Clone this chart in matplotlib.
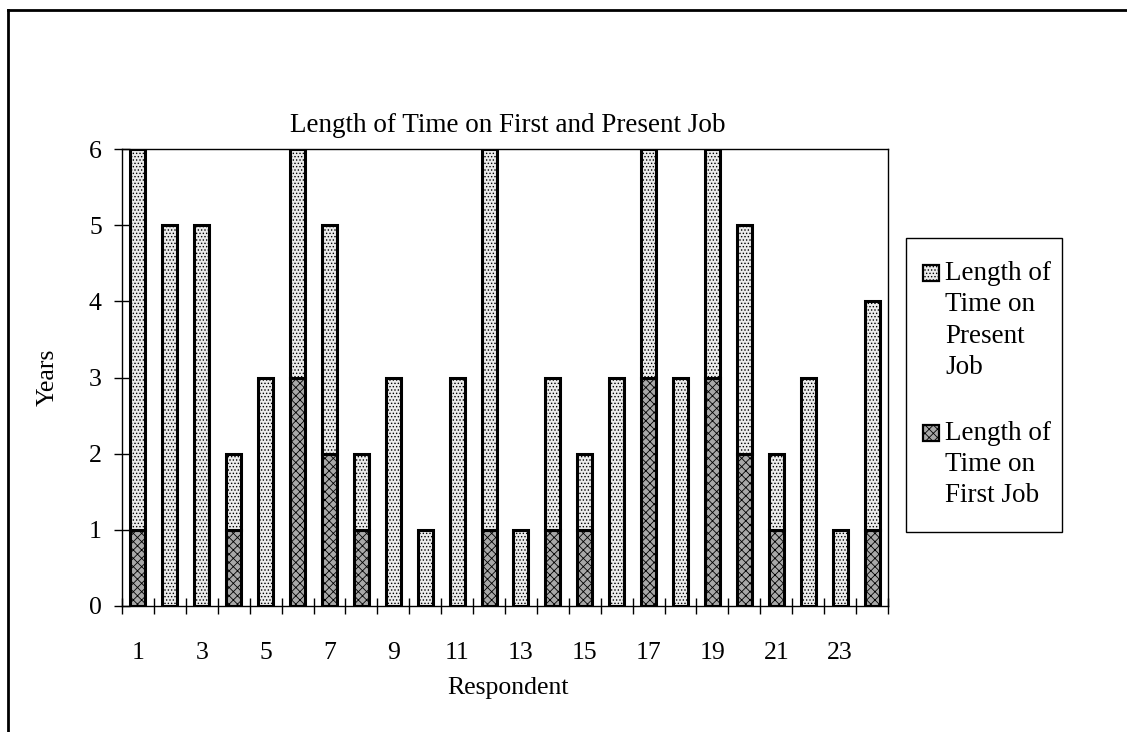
import matplotlib
matplotlib.use("Agg")
import matplotlib.pyplot as plt
from matplotlib.lines import Line2D
from matplotlib.patches import Rectangle
import numpy as np

plt.rcParams['font.family'] = ['Liberation Serif', 'DejaVu Serif']
plt.rcParams['hatch.linewidth'] = 0.6

respondents = list(range(1, 25))
first_job = [1, 0, 0, 1, 0, 3, 2, 1, 0, 0, 0, 1, 0, 1, 1, 0, 3, 0, 3, 2, 1, 0, 0, 1]
total_time = [6, 5, 5, 2, 3, 6, 5, 2, 3, 1, 3, 6, 1, 3, 2, 3, 6, 3, 6, 5, 2, 3, 1, 4]
present_job = [t - f for t, f in zip(total_time, first_job)]
x_tick_labels = [str(i) for i in range(1, 25, 2)]
y_ticks = [0, 1, 2, 3, 4, 5, 6]
legend_present = ['Length of', 'Time on', 'Present', 'Job']
legend_first = ['Length of', 'Time on', 'First Job']

W, H = 1127, 732
fig = plt.figure(figsize=(W / 100, H / 100), dpi=100)

def fx(px):
    return px / W

def fy(py):
    return 1 - py / H

# axes placement in pixels
L, R, T, B = 122, 888, 149, 606
ax = fig.add_axes([fx(L), fy(B), (R - L) / W, (B - T) / H])

dark_style = dict(facecolor='#a8a8a8', edgecolor='black', hatch='xxxx', linewidth=2.2)
light_style = dict(facecolor='#ececec', edgecolor='black', hatch='.....', linewidth=2.2)

x = np.array(respondents)
bw = 0.47
ax.bar(x, first_job, width=bw, zorder=3, **dark_style)
ax.bar(x, present_job, width=bw, bottom=first_job, zorder=3, **light_style)

ax.set_xlim(0.5, 24.5)
ax.set_ylim(0, 6)
ax.set_yticks(y_ticks)
ax.set_yticklabels([str(v) for v in y_ticks])
ax.set_xticks(np.arange(0.5, 25, 1))
ax.set_xticklabels([])
ax.set_xticks(np.arange(1, 25, 2), minor=True)
ax.set_xticklabels(x_tick_labels, minor=True)
ax.tick_params(axis='x', which='major', direction='inout', length=11, width=1)
ax.tick_params(axis='x', which='minor', length=0, pad=26, labelsize=18.5)
ax.tick_params(axis='y', direction='inout', length=11, width=1, pad=9, labelsize=18.5)
for s in ax.spines.values():
    s.set_linewidth(1.0)

fig.text(fx(508), fy(125), 'Length of Time on First and Present Job',
         ha='center', va='center', fontsize=19.5)
fig.text(fx(48), fy(377), 'Years', ha='center', va='center',
         rotation=90, fontsize=18.5)
fig.text(fx(508), fy(688), 'Respondent', ha='center', va='center', fontsize=18.5)

# legend (drawn manually to match multi-line layout)
fig.add_artist(Rectangle((fx(906), fy(532)), (1062 - 906) / W, (532 - 238) / H,
                         transform=fig.transFigure, facecolor='white',
                         edgecolor='black', linewidth=1.0))
line_h = 31.5
for top_y, lines, style in [(273, legend_present, light_style),
                            (433, legend_first, dark_style)]:
    st = dict(style)
    st['linewidth'] = 1.6
    fig.add_artist(Rectangle((fx(923), fy(top_y + 8)), 16 / W, 16 / H,
                             transform=fig.transFigure, **st))
    for i, s in enumerate(lines):
        fig.text(fx(945), fy(top_y + i * line_h), s, ha='left', va='center',
                 fontsize=19.5)

# outer border (left and top only)
fig.add_artist(Line2D([fx(8), fx(8)], [fy(10), 0], transform=fig.transFigure,
                      color='black', linewidth=2))
fig.add_artist(Line2D([fx(8), 1], [fy(10), fy(10)], transform=fig.transFigure,
                      color='black', linewidth=2))

fig.savefig('out.png', dpi=100)
